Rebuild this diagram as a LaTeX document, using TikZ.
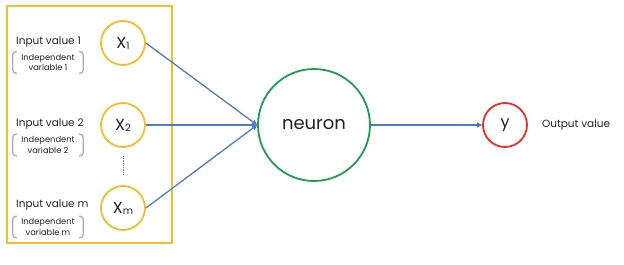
\documentclass[tikz,border=0pt]{standalone}
\usepackage{fontspec}
\setmainfont{Poppins}
\usetikzlibrary{arrows.meta,positioning}
\definecolor{gold}{HTML}{F2BE2C}
\definecolor{leaf}{HTML}{1E9E50}
\definecolor{alarm}{HTML}{E8302A}
\definecolor{wire}{HTML}{4C7DC2}
\definecolor{ink}{HTML}{222222}
\newcommand{\idx}[1]{\raisebox{-1pt}{\fontsize{10}{10}\selectfont #1}}

\begin{document}
\begin{tikzpicture}[x=1pt,y=-1pt,inp/.style={circle,draw=gold,line width=1.8pt,fill=white,minimum size=44pt,inner sep=0pt,text=ink,font=\fontsize{16}{18}\selectfont},lbl/.style={anchor=west,inner sep=0pt,text=ink,font=\fontsize{10.5}{12}\selectfont},note/.style={align=center,minimum width=70pt,minimum height=21pt,inner sep=0pt,text=ink,font=\fontsize{8.3}{10.5}\selectfont},paren/.style={draw=gray!65,line width=1.3pt,rounded corners=3pt},arrow/.style={-{Triangle[length=5pt,width=5pt]},line width=1.3pt,draw=wire}]
\useasboundingbox (0,0) rectangle (624,265);
\node[draw=gold,line width=2pt,minimum width=165pt,minimum height=237pt] (panel) at (89.5,124.5) {};
% inputs
\node[inp] (x1) at (123,43) {X\idx{1}};
\node[inp] (x2) at (123,125) {X\idx{2}};
\node[inp] (xm) at (123,208) {X\idx{m}};
\draw[gray,line width=0.8pt,densely dotted] ([yshift=-8pt]x2.south) -- ([yshift=11pt]xm.north);
\node[lbl] (l1) at (16,42) {Input value 1};
\node[lbl] (l2) at (16,124) {Input value 2};
\node[lbl] (lm) at (16,205) {Input value m};
\node[note] (v1) at (48,62.5) {Independent\\variable 1};
\node[note] (v2) at (48,145) {Independent\\variable 2};
\node[note] (vm) at (48,227) {Independent\\variable m};
\foreach \v in {v1,v2,vm} {
  \draw[paren] ([xshift=4pt]\v.north west) -- (\v.north west) -- (\v.south west) -- ([xshift=4pt]\v.south west);
  \draw[paren] ([xshift=-4pt]\v.north east) -- (\v.north east) -- (\v.south east) -- ([xshift=-4pt]\v.south east);
}
% neuron and output
\node[circle,draw=leaf,line width=1.8pt,minimum size=112pt,inner sep=0pt,text=ink,font=\fontsize{18}{20}\selectfont] (neuron) at (314,125) {neuron};
\node[circle,draw=alarm,line width=1.8pt,minimum size=44pt,inner sep=0pt,text=ink,font=\fontsize{16}{18}\selectfont] (y) at (505,125) {y};
\node[lbl,right=14pt of y,font=\fontsize{10.5}{12}\selectfont] (out) {Output value};
\draw[arrow] (x1.east) -- (neuron.west);
\draw[arrow] (x2.east) -- (neuron.west);
\draw[arrow] (xm.east) -- (neuron.west);
\draw[arrow] (neuron.east) -- (y.west);
\end{tikzpicture}
\end{document}
